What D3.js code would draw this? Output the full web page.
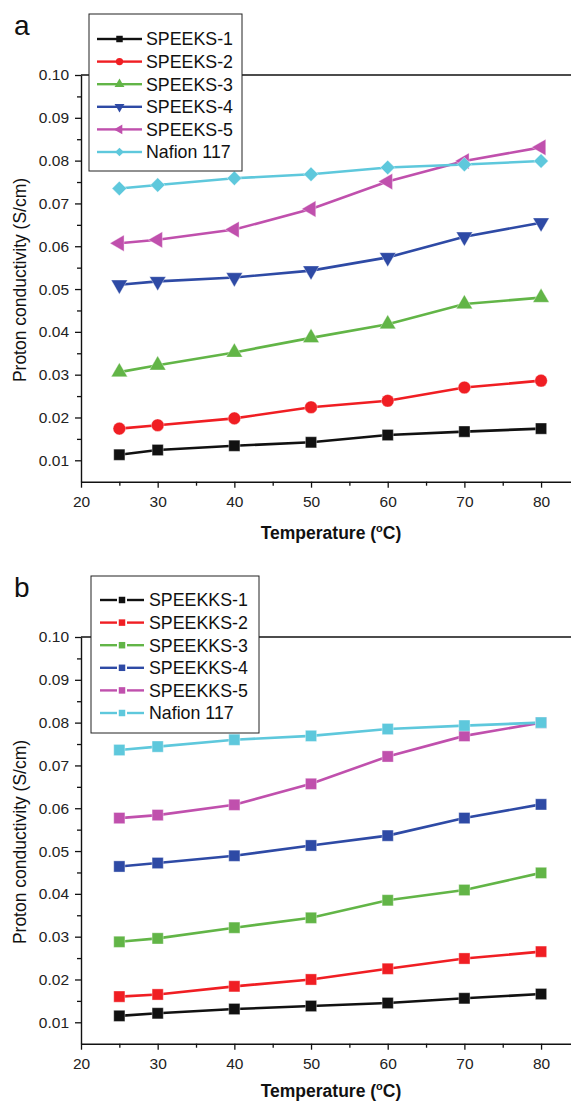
<!DOCTYPE html>
<html>
<head>
<meta charset="utf-8">
<script src="https://cdn.jsdelivr.net/npm/d3@7"></script>
<style>
  body { margin: 0; background: #fff; }
  svg { display: block; font-family: "Liberation Sans", Arial, sans-serif; }
</style>
</head>
<body>
<div id="chart"></div>
<script>
// x values (temperature, C)
var temps = [25, 30, 40, 50, 60, 70, 80];
var xTicks = [20, 30, 40, 50, 60, 70, 80];
var yTicks = [0.01, 0.02, 0.03, 0.04, 0.05, 0.06, 0.07, 0.08, 0.09, 0.10];

// panel a
var namesA = ["SPEEKS-1", "SPEEKS-2", "SPEEKS-3", "SPEEKS-4", "SPEEKS-5", "Nafion 117"];
var speeks1 = [0.0113, 0.0124, 0.0134, 0.0142, 0.0159, 0.0167, 0.0174];
var speeks2 = [0.0174, 0.0182, 0.0198, 0.0224, 0.0239, 0.0270, 0.0286];
var speeks3 = [0.0306, 0.0322, 0.0352, 0.0386, 0.0418, 0.0465, 0.0480];
var speeks4 = [0.0510, 0.0518, 0.0527, 0.0543, 0.0574, 0.0622, 0.0655];
var speeks5 = [0.0607, 0.0615, 0.0639, 0.0687, 0.0751, 0.0799, 0.0831];
var nafionA = [0.0735, 0.0743, 0.0759, 0.0768, 0.0784, 0.0791, 0.0799];

// panel b
var namesB = ["SPEEKKS-1", "SPEEKKS-2", "SPEEKKS-3", "SPEEKKS-4", "SPEEKKS-5", "Nafion 117"];
var speekks1 = [0.0115, 0.0121, 0.0131, 0.0138, 0.0145, 0.0156, 0.0166];
var speekks2 = [0.0160, 0.0165, 0.0184, 0.0200, 0.0225, 0.0249, 0.0265];
var speekks3 = [0.0288, 0.0296, 0.0321, 0.0344, 0.0385, 0.0409, 0.0449];
var speekks4 = [0.0464, 0.0472, 0.0489, 0.0513, 0.0536, 0.0577, 0.0609];
var speekks5 = [0.0577, 0.0584, 0.0608, 0.0657, 0.0721, 0.0769, 0.0800];
var nafionB = [0.0736, 0.0744, 0.0760, 0.0769, 0.0785, 0.0793, 0.0800];

var colors = ["#111111", "#f01e23", "#62b547", "#2e4aa5", "#c050ad", "#5ec8dc"];

var W = 571, H = 1105;
var svg = d3.select("#chart").append("svg").attr("width", W).attr("height", H);

var x = d3.scaleLinear().domain([20, 85]).range([81, 579.4]);
var y = d3.scaleLinear().domain([0.005, 0.10]).range([481.7, 75]);

function markerPath(kind, big) {
  if (kind == "square") return d3.symbol().type(d3.symbolSquare).size(big ? 125 : 42)();
  if (kind == "circle") return d3.symbol().type(d3.symbolCircle).size(big ? 125 : 42)();
  if (kind == "diamond") return d3.symbol().type(d3.symbolSquare).size(big ? 105 : 38)();
  return d3.symbol().type(d3.symbolTriangle).size(big ? 115 : 42)();
}
function markerRot(kind) {
  if (kind == "down") return 180;
  if (kind == "left") return -90;
  if (kind == "diamond") return 45;
  return 0;
}

function drawPanel(offY, letter, names, series, kinds, legend, titleY) {
  var g = svg.append("g").attr("transform", "translate(0," + offY + ")");

  g.append("text").attr("x", 14).attr("y", 35)
    .attr("font-size", 28).attr("fill", "#111").text(letter);

  // top frame line
  g.append("line").attr("x1", x(20)).attr("x2", W)
    .attr("y1", y(0.10)).attr("y2", y(0.10))
    .attr("stroke", "#111").attr("stroke-width", 1.3);

  // y axis
  var ya = g.append("g").attr("transform", "translate(" + x(20) + ",0)")
    .call(d3.axisLeft(y).tickValues(yTicks).tickSize(6).tickSizeOuter(0)
      .tickFormat(d3.format(".2f")));
  g.append("g").attr("transform", "translate(" + x(20) + ",0)")
    .call(d3.axisLeft(y).tickValues(d3.range(0.015, 0.1, 0.01)).tickSize(4).tickFormat(""))
    .select(".domain").remove();

  // x axis
  var xa = g.append("g").attr("transform", "translate(0," + y(0.005) + ")")
    .call(d3.axisBottom(x).tickValues(xTicks).tickSize(6).tickSizeOuter(0));
  g.append("g").attr("transform", "translate(0," + y(0.005) + ")")
    .call(d3.axisBottom(x).tickValues([25, 35, 45, 55, 65, 75, 85]).tickSize(4).tickFormat(""))
    .select(".domain").remove();

  g.selectAll(".domain").attr("stroke", "#111").attr("stroke-width", 1.4);
  g.selectAll(".tick line").attr("stroke", "#111").attr("stroke-width", 1.3);
  ya.selectAll("text").attr("font-size", 15.5).attr("fill", "#222")
    .attr("font-family", "Liberation Sans, Arial, sans-serif").attr("x", -12);
  xa.selectAll("text").attr("font-size", 15.5).attr("fill", "#222")
    .attr("font-family", "Liberation Sans, Arial, sans-serif").attr("dy", "1.05em");

  // axis titles
  var xt = g.append("text").attr("x", 331).attr("y", titleY)
    .attr("text-anchor", "middle").attr("font-size", 17.5).attr("font-weight", "bold")
    .attr("fill", "#111");
  xt.append("tspan").text("Temperature (");
  xt.append("tspan").attr("font-size", 11).attr("dy", -7).text("o");
  xt.append("tspan").attr("dy", 7).text("C)");

  g.append("text").attr("transform", "translate(26,280) rotate(-90)")
    .attr("text-anchor", "middle").attr("font-size", 17.5).attr("fill", "#111")
    .text("Proton conductivity (S/cm)");

  // series
  var line = d3.line().x(function(d, i) { return x(temps[i]); }).y(function(d) { return y(d); });
  series.forEach(function(vals, k) {
    g.append("path").datum(vals).attr("d", line)
      .attr("fill", "none").attr("stroke", colors[k]).attr("stroke-width", 2.6);
  });
  series.forEach(function(vals, k) {
    g.selectAll(".m" + k).data(vals).enter().append("path")
      .attr("d", markerPath(kinds[k], true))
      .attr("transform", function(d, i) {
        return "translate(" + x(temps[i]) + "," + y(d) + ") rotate(" + markerRot(kinds[k]) + ")";
      })
      .attr("fill", colors[k]).attr("stroke", "#fff").attr("stroke-width", 0.6)
      .attr("stroke-opacity", 0.6);
  });

  // legend
  var L = legend;
  g.append("rect").attr("x", L.x0).attr("y", L.y0).attr("width", L.x1 - L.x0)
    .attr("height", L.y1 - L.y0).attr("fill", "#fff").attr("stroke", "#222").attr("stroke-width", 1);
  names.forEach(function(nm, k) {
    var ry = L.row0 + k * L.step;
    g.append("line").attr("x1", L.l0).attr("x2", L.m - L.gap).attr("y1", ry).attr("y2", ry)
      .attr("stroke", colors[k]).attr("stroke-width", 2.4);
    g.append("line").attr("x1", L.m + L.gap).attr("x2", L.l1).attr("y1", ry).attr("y2", ry)
      .attr("stroke", colors[k]).attr("stroke-width", 2.4);
    g.append("path").attr("d", markerPath(kinds[k], false))
      .attr("transform", "translate(" + L.m + "," + ry + ") rotate(" + markerRot(kinds[k]) + ")")
      .attr("fill", colors[k]);
    g.append("text").attr("x", L.tx).attr("y", ry + 6.3).attr("font-size", 17.8)
      .attr("fill", "#111").text(nm);
  });
}

drawPanel(0, "a", namesA, [speeks1, speeks2, speeks3, speeks4, speeks5, nafionA],
  ["square", "circle", "triangle", "down", "left", "diamond"],
  { x0: 89, x1: 242, y0: 14, y1: 171, row0: 39, step: 22.6, l0: 97, l1: 142, m: 119.5, gap: 0, tx: 146 },
  539);

drawPanel(562, "b", namesB, [speekks1, speekks2, speekks3, speekks4, speekks5, nafionB],
  ["square", "square", "square", "square", "square", "square"],
  { x0: 91, x1: 259, y0: 14, y1: 171, row0: 38, step: 22.6, l0: 100, l1: 144, m: 122, gap: 5, tx: 149 },
  535);
</script>
</body>
</html>
